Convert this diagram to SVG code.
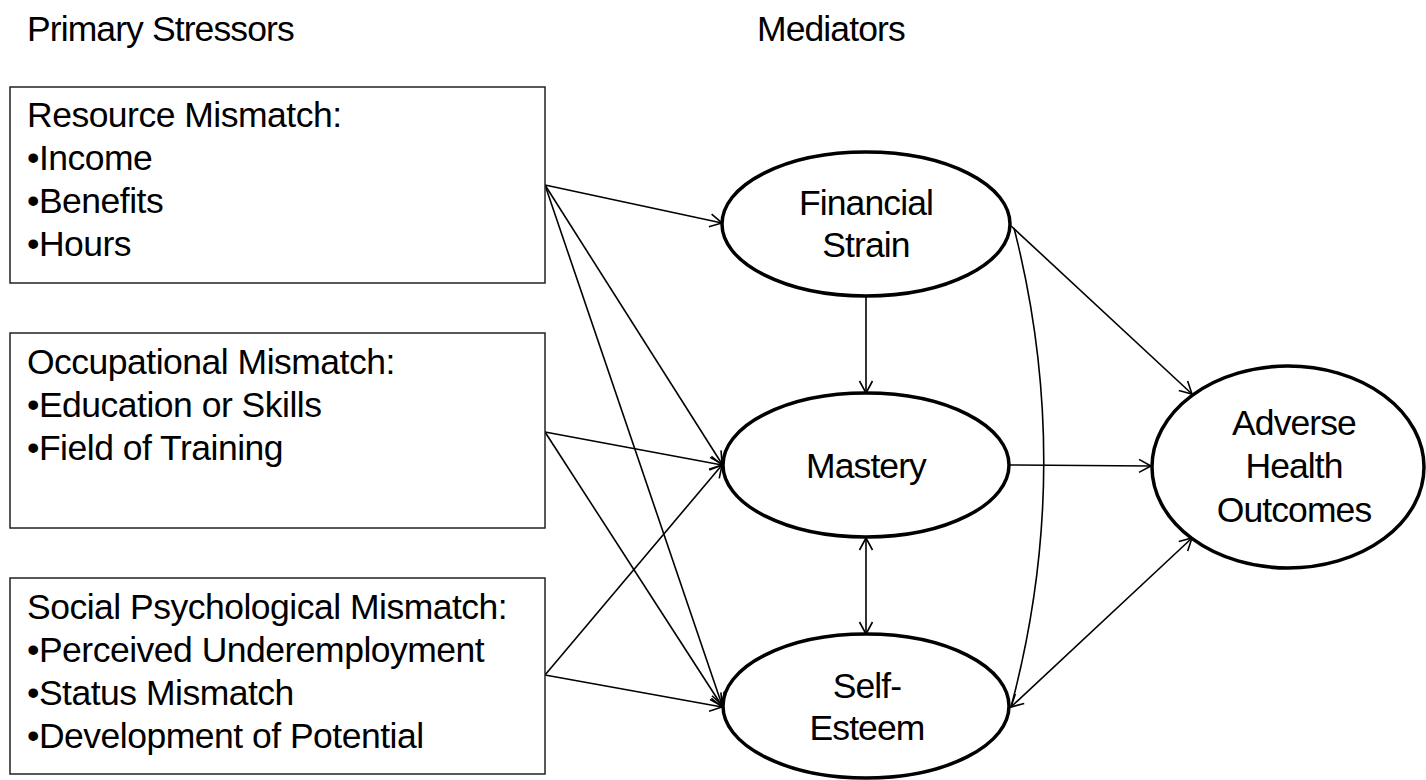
<svg xmlns="http://www.w3.org/2000/svg" width="1426" height="780" viewBox="0 0 1426 780">
<style>
text{font-family:"Liberation Sans",Arial,sans-serif;font-size:35.5px;fill:#000;letter-spacing:-0.9px}
.bt{letter-spacing:-0.5px}
.box{fill:#fff;stroke:#222;stroke-width:1.5}
.ell{fill:#fff;stroke:#000;stroke-width:3.5}
.c{fill:none;stroke:#000;stroke-width:1.6}
.mid{text-anchor:middle}
</style>
<defs>
<marker id="arr" viewBox="-14 -8 16 16" refX="0" refY="0" markerWidth="16" markerHeight="16" markerUnits="userSpaceOnUse" orient="auto-start-reverse">
<path d="M-12,-6.5 L0,0 L-12,6.5" fill="none" stroke="#000" stroke-width="1.6"/>
</marker>
</defs>
<rect width="1426" height="780" fill="#fff"/>
<g id="headers">
<text x="27" y="41">Primary Stressors</text>
<text x="757" y="41">Mediators</text>
</g>
<g id="connectors">
<path class="c" d="M545,185 L722,223" marker-end="url(#arr)"/>
<path class="c" d="M545,185 L722,464" marker-end="url(#arr)"/>
<path class="c" d="M545,185 L722,705" marker-end="url(#arr)"/>
<path class="c" d="M545,432 L722,465" marker-end="url(#arr)"/>
<path class="c" d="M545,432 L722,706" marker-end="url(#arr)"/>
<path class="c" d="M545,675 L722,465" marker-end="url(#arr)"/>
<path class="c" d="M545,675 L722,707" marker-end="url(#arr)"/>
<path class="c" d="M866,297 L866,393" marker-end="url(#arr)"/>
<path class="c" d="M866,538 L866,634" marker-start="url(#arr)" marker-end="url(#arr)"/>
<path class="c" d="M1009,465 L1151,466" marker-end="url(#arr)"/>
<path class="c" d="M1010,225 L1192,394" marker-end="url(#arr)"/>
<path class="c" d="M1011,707 L1192,538" marker-start="url(#arr)" marker-end="url(#arr)"/>
<path class="c" d="M1014,228 Q1075,467 1011,707"/>
</g>
<g id="resource">
<rect class="box" x="10" y="87" width="535" height="196"/>
<text class="bt" x="27" y="127">Resource Mismatch:</text>
<text class="bt" x="27" y="170">•Income</text>
<text class="bt" x="27" y="213">•Benefits</text>
<text class="bt" x="27" y="256">•Hours</text>
</g>
<g id="occupational">
<rect class="box" x="10" y="333" width="535" height="195"/>
<text class="bt" x="27" y="374">Occupational Mismatch:</text>
<text class="bt" x="27" y="417">•Education or Skills</text>
<text class="bt" x="27" y="460">•Field of Training</text>
</g>
<g id="social">
<rect class="box" x="10" y="578" width="535" height="196"/>
<text class="bt" x="27" y="619">Social Psychological Mismatch:</text>
<text class="bt" x="27" y="662">•Perceived Underemployment</text>
<text class="bt" x="27" y="705">•Status Mismatch</text>
<text class="bt" x="27" y="748">•Development of Potential</text>
</g>
<g id="financial">
<ellipse class="ell" cx="866" cy="224" rx="144" ry="72"/>
<text class="mid" x="866" y="215">Financial</text>
<text class="mid" x="866" y="257">Strain</text>
</g>
<g id="mastery">
<ellipse class="ell" cx="866" cy="465" rx="143" ry="72"/>
<text class="mid" x="866" y="478">Mastery</text>
</g>
<g id="selfesteem">
<ellipse class="ell" cx="866" cy="706" rx="143" ry="72"/>
<text class="mid" x="867" y="698">Self-</text>
<text class="mid" x="867" y="740">Esteem</text>
</g>
<g id="adverse">
<ellipse class="ell" cx="1288" cy="467" rx="136" ry="101"/>
<text class="mid" x="1294" y="435">Adverse</text>
<text class="mid" x="1294" y="478">Health</text>
<text class="mid" x="1294" y="522">Outcomes</text>
</g>
</svg>
